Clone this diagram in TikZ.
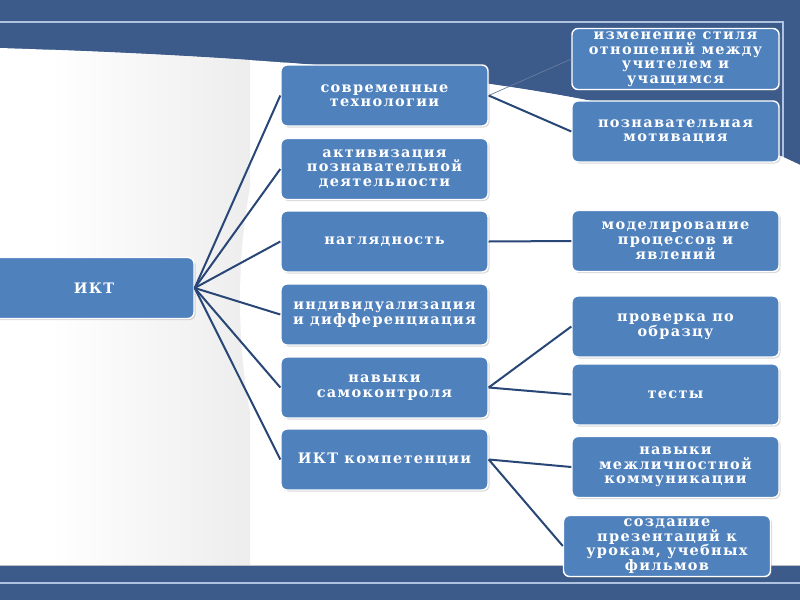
\documentclass[tikz,border=0pt]{standalone}
\usepackage{fontspec}
\setmainfont{DejaVu Serif}[BoldFont={DejaVu Serif Bold}, LetterSpace=9]
\usetikzlibrary{shadows}

\definecolor{slidenavy}{RGB}{60,90,138}
\definecolor{boxblue}{RGB}{79,129,189}
\definecolor{linknavy}{RGB}{40,70,118}
\definecolor{rulelight}{RGB}{175,195,225}

\tikzset{
  box/.style={draw=white, line width=1.4pt, fill=boxblue, rounded corners=6pt,
    text=white, font=\bfseries\fontsize{14.5}{14.5}\selectfont, align=center,
    minimum width=207pt, minimum height=61pt, inner sep=2pt,
    drop shadow={shadow xshift=1.5pt, shadow yshift=-1.5pt, opacity=0.3}},
  link/.style={draw=linknavy, line width=2pt},
  thinlink/.style={draw=linknavy!70, line width=0.7pt}
}

\begin{document}
\begin{tikzpicture}[x=1pt,y=-1pt]
  \useasboundingbox (0,0) rectangle (800,600);
  % slide background
  \fill[slidenavy] (0,0) rectangle (800,600);
  \draw[rulelight, line width=1.2pt] (0,22) -- (783,22) -- (783,158);
  \draw[rulelight, line width=1.2pt] (0,583) -- (800,583);
  \begin{scope}
    \clip (0,48) .. controls (300,58) and (610,80) .. (785,158) -- (800,165)
      -- (800,565) -- (0,565) -- cycle;
    \fill[white] (0,0) rectangle (800,600);
    \shade[left color=white, right color=black!7] (50,0) rectangle (250,600);
    \fill[white] (300,30) .. controls (220,200) and (220,400) .. (300,570)
      -- (800,570) -- (800,30) -- cycle;
  \end{scope}
  \draw[black!25, line width=0.8pt] (0,565) -- (800,565);

  % root
  \node[box, minimum width=200pt] (ikt) at (94,288) {ИКТ};

  % middle column
  \node[box] (tech)  at (384.5,95.5)  {современные\\технологии};
  \node[box] (activ) at (384.5,169)   {активизация\\познавательной\\деятельности};
  \node[box] (vis)   at (384.5,241.5) {наглядность};
  \node[box] (indiv) at (384.5,314.5) {индивидуализация\\и дифференциация};
  \node[box] (selfc) at (384.5,387.5) {навыки\\самоконтроля};
  \node[box] (comp)  at (384.5,459.5) {ИКТ компетенции};

  % right column
  \node[box] (style)  at (675.5,59)    {изменение стиля\\отношений между\\учителем и\\учащимся};
  \node[box] (motiv)  at (675.5,131.5) {познавательная\\мотивация};
  \node[box] (model)  at (675.5,241)   {моделирование\\процессов и\\явлений};
  \node[box] (sample) at (675.5,326.5) {проверка по\\образцу};
  \node[box] (tests)  at (675.5,394.5) {тесты};
  \node[box] (comm)   at (675.5,467)   {навыки\\межличностной\\коммуникации};
  \node[box] (pres)   at (667,546)     {создание\\презентаций к\\урокам, учебных\\фильмов};

  % connectors
  \foreach \m in {tech,activ,vis,indiv,selfc,comp}
    \draw[link] (ikt.east) -- (\m.west);
  \draw[thinlink] (tech.east) -- (style.west);
  \draw[link] (tech.east) -- (motiv.west);
  \draw[link] (vis.east) -- (model.west);
  \draw[link] (selfc.east) -- (sample.west);
  \draw[link] (selfc.east) -- (tests.west);
  \draw[link] (comp.east) -- (comm.west);
  \draw[link] (comp.east) -- (pres.west);
\end{tikzpicture}
\end{document}
